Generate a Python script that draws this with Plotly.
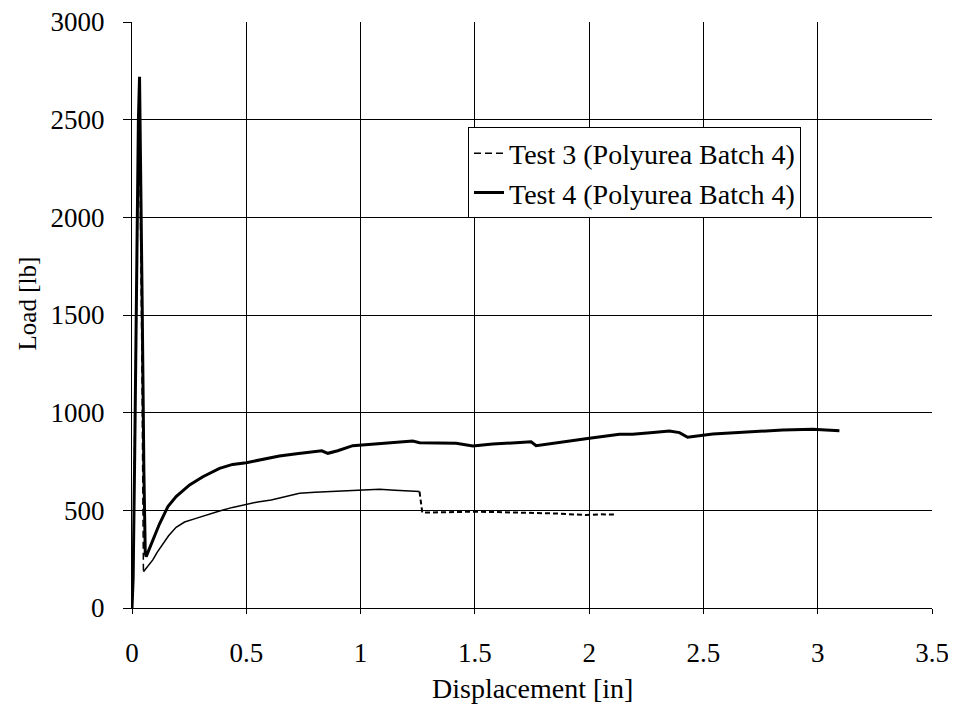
import plotly.graph_objects as go

# Test 3 (Polyurea Batch 4) - displacement [in], load [lb]
test3_disp = [0, 0.006, 0.012, 0.02, 0.027, 0.033, 0.038, 0.043, 0.047, 0.05,
              0.06, 0.075, 0.091, 0.11, 0.135, 0.16, 0.193, 0.23, 0.28, 0.33,
              0.383, 0.44, 0.5, 0.55, 0.609, 0.67, 0.733, 0.8, 0.893, 0.99,
              1.083, 1.15, 1.258, 1.265, 1.27, 1.35, 1.49, 1.6, 1.724, 1.85,
              1.987, 2.05, 2.11]
test3_load = [0, 250, 900, 1700, 2300, 2450, 2000, 1300, 650, 186,
              200, 225, 246, 285, 331, 370, 413, 440, 459, 478,
              497, 515, 532, 543, 553, 570, 587, 592, 597, 604,
              608, 603, 596, 540, 488, 490, 493, 491, 488, 484,
              476, 480, 478]

# Test 4 (Polyurea Batch 4)
test4_disp = [0, 0.005, 0.012, 0.02, 0.028, 0.033, 0.038, 0.045, 0.052, 0.058,
              0.062, 0.075, 0.091, 0.12, 0.157, 0.193, 0.252, 0.31, 0.383, 0.44,
              0.5, 0.57, 0.645, 0.72, 0.79, 0.83, 0.857, 0.9, 0.966, 1.083,
              1.141, 1.228, 1.258, 1.35, 1.418, 1.491, 1.578, 1.68, 1.746, 1.768,
              1.87, 2.001, 2.133, 2.19, 2.28, 2.351, 2.395, 2.431, 2.541, 2.701,
              2.847, 2.978, 3.095]
test4_load = [0, 150, 800, 1700, 2500, 2720, 2300, 1500, 700, 280,
              263, 300, 348, 430, 519, 570, 630, 672, 715, 735,
              744, 762, 778, 790, 800, 805, 792, 805, 831, 840,
              846, 855, 846, 845, 843, 829, 840, 846, 851, 831,
              846, 869, 889, 889, 898, 906, 898, 874, 891, 903,
              911, 915, 908]

FONT = "Liberation Serif"
tick_font = dict(family=FONT, size=27, color="black")

# the dense middle part of test 3 prints as a solid thin line in the original
i_min = test3_load.index(min(test3_load[5:]))
i_drop = 32

fig = go.Figure()

fig.add_trace(go.Scatter(
    x=test3_disp[:i_min + 1], y=test3_load[:i_min + 1],
    mode="lines", name="Test 3 (Polyurea Batch 4)",
    line=dict(color="black", width=1.5, dash="7px,4px"),
    legendgroup="t3"
))
fig.add_trace(go.Scatter(
    x=test3_disp[i_min:i_drop + 1], y=test3_load[i_min:i_drop + 1],
    mode="lines", showlegend=False, legendgroup="t3",
    line=dict(color="black", width=1.5)
))
fig.add_trace(go.Scatter(
    x=test3_disp[i_drop:], y=test3_load[i_drop:],
    mode="lines", showlegend=False, legendgroup="t3",
    line=dict(color="black", width=2, dash="5px,3px")
))
fig.add_trace(go.Scatter(
    x=test4_disp, y=test4_load,
    mode="lines", name="Test 4 (Polyurea Batch 4)",
    line=dict(color="black", width=3),
    legendgroup="t4"
))

# page body adds an 8px margin, so the figure starts at (8, 8) in the window
fig.update_layout(
    width=948, height=710,
    margin=dict(l=124, r=24, t=14, b=110),
    paper_bgcolor="white", plot_bgcolor="white",
    font=dict(family=FONT, size=24, color="black"),
    showlegend=True,
    legend=dict(
        x=0.42, y=0.82, xanchor="left", yanchor="top",
        bgcolor="white", bordercolor="black", borderwidth=1,
        font=dict(family=FONT, size=28, color="black"),
        traceorder="grouped", tracegroupgap=0
    ),
    xaxis=dict(
        range=[0, 3.5], dtick=0.5, tick0=0, automargin=False,
        showgrid=True, gridcolor="black", gridwidth=1,
        showline=True, linecolor="black", linewidth=1,
        ticks="outside", ticklen=5, tickcolor="black",
        tickfont=tick_font, ticklabelstandoff=16, zeroline=False,
        ticklabeloverflow="allow"
    ),
    yaxis=dict(
        range=[0, 3000], dtick=500, tick0=0, tickformat="d", automargin=False,
        showgrid=True, gridcolor="black", gridwidth=1,
        showline=True, linecolor="black", linewidth=1,
        ticks="outside", ticklen=8, tickcolor="black",
        tickfont=tick_font, ticklabelstandoff=13, zeroline=False,
        ticklabeloverflow="allow"
    ),
    annotations=[
        dict(text="Displacement [in]", xref="paper", yref="paper",
             x=0.5, y=-0.137, xanchor="center", yanchor="middle",
             showarrow=False, font=dict(family=FONT, size=28, color="black")),
        dict(text="Load [lb]", xref="paper", yref="paper",
             x=-0.131, y=0.52, xanchor="center", yanchor="middle",
             textangle=-90, showarrow=False,
             font=dict(family=FONT, size=25, color="black"))
    ]
)

fig.write_html("out.html")
